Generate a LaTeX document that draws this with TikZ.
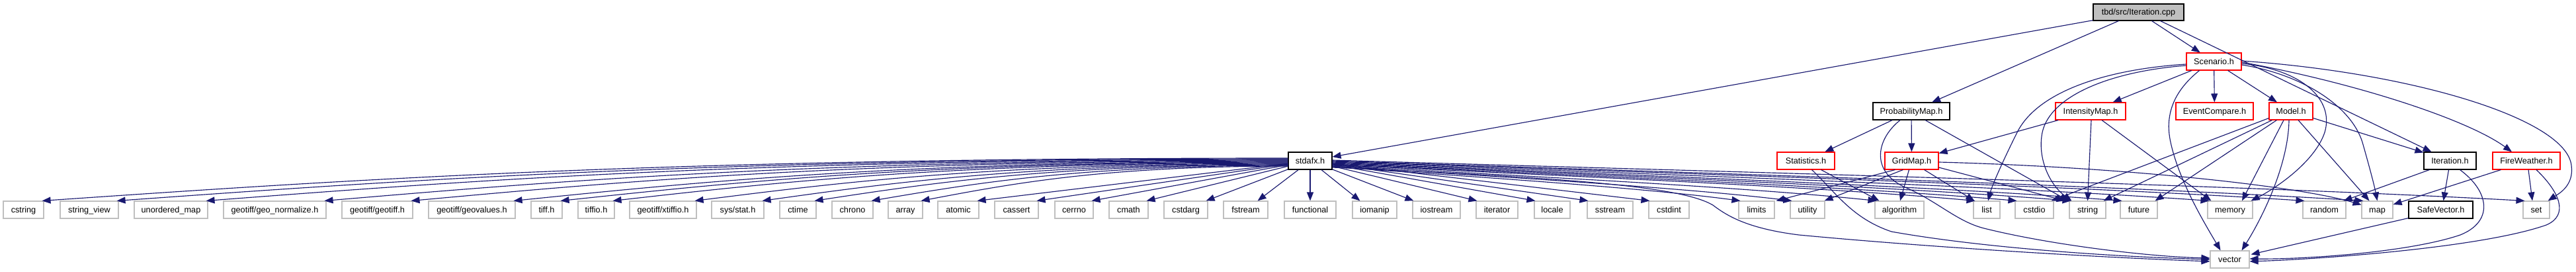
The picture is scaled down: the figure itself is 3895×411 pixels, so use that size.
\documentclass[tikz,border=0pt]{standalone}
\usepackage{fontspec}
\setmainfont{Liberation Sans}
\usetikzlibrary{arrows.meta,calc}
\definecolor{edgeblue}{HTML}{191970}
\definecolor{boxgray}{HTML}{BFBFBF}
\definecolor{boxred}{HTML}{FF0000}
\definecolor{cppfill}{HTML}{BFBFBF}
\newcommand\fanL[2]{\draw[edge] let \p1=($(stdafx.west)+(0,#2)$), \p2=($(#1.north east)+(-3,0)$) in (\p1) .. controls ({\x1+0.5*(\x2-\x1)},\y1) and ({\x2+0.25*(\x1-\x2)},{0.5*(\y1+\y2)}) .. (\p2);}
\newcommand\fanR[2]{\draw[edge] let \p1=($(stdafx.east)+(0,#2)$), \p2=($(#1.north west)+(3,0)$) in (\p1) .. controls ({\x1+0.35*(\x2-\x1)},{\y1+0.3*(\y2-\y1)}) and ({\x2-0.25*(\x2-\x1)},{\y1+0.6*(\y2-\y1)}) .. (\p2);}
\begin{document}
\begin{tikzpicture}[x=1pt,y=-1pt,
  nb/.style={rectangle, draw, line width=1.1pt, inner sep=0pt, minimum height=26pt,
    text height=9pt, text depth=0pt, font=\fontsize{12.7}{15}\selectfont, text=black},
  gbox/.style={nb, draw=boxgray},
  rbox/.style={nb, draw=boxred},
  kbox/.style={nb, draw=black},
  edge/.style={draw=edgeblue, line width=1.15pt, -{Triangle[length=13pt,width=10pt]}}]
\useasboundingbox (0,0) rectangle (3895,411);

% row 0
\node[kbox, fill=cppfill, minimum width=137, minimum height=25] (cpp) at (3233.5,18.5) {tbd/src/Iteration.cpp};
% row 1
\node[rbox, minimum width=83] (scenario) at (3347.5,93) {Scenario.h};
% row 2
\node[kbox, minimum width=116] (probmap) at (2890,168) {ProbabilityMap.h};
\node[rbox, minimum width=106] (intensity) at (3161,168) {IntensityMap.h};
\node[rbox, minimum width=117] (eventcmp) at (3348.5,168) {EventCompare.h};
\node[rbox, minimum width=66] (model) at (3464,168) {Model.h};
% row 3
\node[kbox, minimum width=66] (stdafx) at (1981,243) {stdafx.h};
\node[rbox, minimum width=87] (statistics) at (2730.5,243) {Statistics.h};
\node[rbox, minimum width=81] (gridmap) at (2890.5,243) {GridMap.h};
\node[kbox, minimum width=79] (iterh) at (3704.5,243) {Iteration.h};
\node[rbox, minimum width=102] (fireweather) at (3820,243) {FireWeather.h};
% row 4
\node[gbox,minimum width=61] (cstring) at (35.5,317) {cstring};
\node[gbox,minimum width=88] (stringview) at (135,317) {string\_view};
\node[gbox,minimum width=111] (unorderedmap) at (258.5,317) {unordered\_map};
\node[gbox,minimum width=155] (geonorm) at (415.5,317) {geotiff/geo\_normalize.h};
\node[gbox,minimum width=107] (geotiff) at (570.5,317) {geotiff/geotiff.h};
\node[gbox,minimum width=131] (geovalues) at (713.5,317) {geotiff/geovalues.h};
\node[gbox,minimum width=47] (tiffh) at (826.5,317) {tiff.h};
\node[gbox,minimum width=55] (tiffio) at (901.5,317) {tiffio.h};
\node[gbox,minimum width=101] (xtiffio) at (1002.5,317) {geotiff/xtiffio.h};
\node[gbox,minimum width=79] (sysstat) at (1115.5,317) {sys/stat.h};
\node[gbox,minimum width=55] (ctime) at (1206.5,317) {ctime};
\node[gbox,minimum width=62] (chrono) at (1289,317) {chrono};
\node[gbox,minimum width=52] (array) at (1369,317) {array};
\node[gbox,minimum width=62] (atomic) at (1449,317) {atomic};
\node[gbox,minimum width=66] (cassert) at (1537,317) {cassert};
\node[gbox,minimum width=58] (cerrno) at (1624,317) {cerrno};
\node[gbox,minimum width=59] (cmath) at (1706.5,317) {cmath};
\node[gbox,minimum width=66] (cstdarg) at (1793,317) {cstdarg};
\node[gbox,minimum width=67] (fstream) at (1883.5,317) {fstream};
\node[gbox,minimum width=78] (functional) at (1981,317) {functional};
\node[gbox,minimum width=67] (iomanip) at (2078.5,317) {iomanip};
\node[gbox,minimum width=72] (iostream) at (2172,317) {iostream};
\node[gbox,minimum width=63] (iterator) at (2263.5,317) {iterator};
\node[gbox,minimum width=54] (locale) at (2347,317) {locale};
\node[gbox,minimum width=69] (sstream) at (2434.5,317) {sstream};
\node[gbox,minimum width=61] (cstdint) at (2523.5,317) {cstdint};
\node[gbox,minimum width=54] (limits) at (2656,317) {limits};
\node[gbox,minimum width=52] (utility) at (2733,317) {utility};
\node[gbox,minimum width=74] (algorithm) at (2872,317) {algorithm};
\node[gbox,minimum width=40] (list) at (3004,317) {list};
\node[gbox,minimum width=58] (cstdio) at (3076,317) {cstdio};
\node[gbox,minimum width=55] (string) at (3156.5,317) {string};
\node[gbox,minimum width=56] (future) at (3234,317) {future};
\node[gbox,minimum width=68] (memory) at (3372,317) {memory};
\node[gbox,minimum width=65] (random) at (3514.5,317) {random};
\node[gbox,minimum width=47] (map) at (3594.5,317) {map};
\node[kbox,minimum width=97] (safevector) at (3690.5,317) {SafeVector.h};
\node[gbox,minimum width=40] (set) at (3835,317) {set};
% row 5
\node[gbox,minimum width=59] (vector) at (3371.5,392) {vector};

% Iteration.cpp
\draw[edge] (cpp) -- (stdafx);
\draw[edge] (cpp) -- (probmap);
\draw[edge] (cpp) -- (scenario);
\draw[edge] ($(cpp.south)+(33,0)$) -- (iterh);

% Scenario.h
\draw[edge] (scenario) -- (intensity);
\draw[edge] (scenario) -- (eventcmp);
\draw[edge] (scenario) -- (model);
\draw[edge] ($(scenario.west)+(0,4)$) .. controls (3180,105) and (3080,140) .. (3050,200) .. controls (3030,240) and (3012,280) .. ($(list.north)+(2,0)$);
\draw[edge] ($(scenario.west)+(0,6)$) .. controls (3190,108) and (3100,145) .. (3088,200) .. controls (3080,240) and (3100,280) .. ($(string.north west)+(4,0)$);
\draw[edge] ($(scenario.south)+(-22,0)$) .. controls (3290,135) and (3272,170) .. (3282,215) .. controls (3295,275) and (3335,340) .. ($(vector.north)+(-14,0)$);
\draw[edge] ($(scenario.east)+(0,3)$) .. controls (3480,105) and (3530,150) .. (3515,200) .. controls (3500,245) and (3440,285) .. ($(memory.north east)+(-3,0)$);
\draw[edge] ($(scenario.east)+(0,5)$) .. controls (3480,112) and (3555,160) .. (3572,215) .. controls (3582,250) and (3590,280) .. (map.north);
\draw[edge] ($(scenario.east)+(0,1)$) .. controls (3560,125) and (3730,180) .. ($(fireweather.north)+(-22,0)$);
\draw[edge] ($(scenario.east)+(0,-1)$) .. controls (3650,110) and (3880,180) .. (3888,250) .. controls (3892,280) and (3870,292) .. ($(set.north east)+(-3,0)$);

% Model.h
\draw[edge] ($(model.south west)+(0,-3)$) -- ($(cstdio.north east)+(-4,0)$);
\draw[edge] ($(model.south west)+(5,0)$) -- ($(string.north east)+(-4,0)$);
\draw[edge] ($(model.south west)+(12,0)$) -- ($(future.north east)+(-4,0)$);
\draw[edge] ($(model.south)+(-11,0)$) -- ($(memory.north)+(18,0)$);
\draw[edge] ($(model.south)+(-3,0)$) .. controls (3460,250) and (3420,330) .. ($(vector.north)+(18,0)$);
\draw[edge] ($(model.south)+(11,0)$) -- ($(map.north)+(-12,0)$);
\draw[edge] (model) -- (iterh);

% IntensityMap.h
\draw[edge] (intensity) -- (gridmap);
\draw[edge] ($(intensity.south)+(1,0)$) -- (string.north);
\draw[edge] ($(intensity.south)+(17,0)$) -- ($(memory.north west)+(6,0)$);

% ProbabilityMap.h
\draw[edge] (probmap) -- (statistics);
\draw[edge] (probmap) -- (gridmap);
\draw[edge] ($(probmap.south)+(21,0)$) -- ($(string.north west)+(-1,0)$);
\draw[edge] ($(probmap.south)+(-17,0)$) .. controls (2835,212) and (2828,262) .. (2885,285) .. controls (2930,305) and (2960,335) .. (3000,345) .. controls (3100,370) and (3250,388) .. ($(vector.west)+(0,-2)$);

% Statistics.h
\draw[edge] ($(statistics.south)+(9,0)$) .. controls (2775,290) and (2800,330) .. (2860,350) .. controls (3000,375) and (3200,388) .. (vector.west);
\draw[edge] ($(statistics.south)+(23,0)$) -- ($(algorithm.north west)+(7,0)$);

% GridMap.h
\draw[edge] ($(gridmap.south west)+(16,0)$) -- ($(limits.north east)+(2,0)$);
\draw[edge] ($(gridmap.south west)+(28,0)$) -- ($(utility.north east)+(-1,0)$);
\draw[edge] ($(gridmap.south)+(-4,0)$) -- ($(algorithm.north)+(1,0)$);
\draw[edge] ($(gridmap.south east)+(-22,0)$) -- ($(list.north west)+(2,0)$);
\draw[edge] ($(gridmap.east)+(0,10)$) -- ($(string.north west)+(-6,0)$);
\draw[edge] ($(gridmap.east)+(0,2)$) .. controls (3200,252) and (3470,280) .. ($(map.north west)+(0,6)$);

% Iteration.h
\draw[edge] ($(iterh.south west)+(9,0)$) -- ($(random.north east)+(-4,0)$);
\draw[edge] ($(iterh.south)+(-2,0)$) -- ($(safevector.north)+(4,0)$);
\draw[edge] ($(iterh.south)+(15,0)$) .. controls (3765,290) and (3770,335) .. (3720,355) .. controls (3640,382) and (3480,392) .. ($(vector.east)+(0,-1)$);

% FireWeather.h
\draw[edge] ($(fireweather.south west)+(13,0)$) -- ($(map.east)+(0,-8)$);
\draw[edge] ($(fireweather.south)+(3,0)$) -- ($(set.north)+(-6,0)$);
\draw[edge] ($(fireweather.south)+(15,0)$) .. controls (3870,290) and (3885,325) .. (3850,340) .. controls (3750,375) and (3500,392) .. ($(vector.east)+(0,3)$);

% SafeVector.h
\draw[edge] ($(safevector.south west)+(0,-1)$) -- ($(vector.north east)+(2,6)$);

% stdafx.h
\fanL{cstring}{-4}
\fanL{stringview}{-3}
\fanL{unorderedmap}{-2}
\fanL{geonorm}{-1}
\fanL{geotiff}{0}
\fanL{geovalues}{1}
\fanL{tiffh}{2}
\fanL{tiffio}{3}
\fanL{xtiffio}{4}
\fanL{sysstat}{5}
\fanL{ctime}{6}
\fanL{chrono}{7}
\fanL{array}{8}
\draw[edge] (stdafx) -- ($(atomic.north east)+(-3,0)$);
\draw[edge] (stdafx) -- ($(cassert.north east)+(-3,0)$);
\draw[edge] (stdafx) -- ($(cerrno.north east)+(-3,0)$);
\draw[edge] (stdafx) -- ($(cmath.north east)+(-3,0)$);
\draw[edge] (stdafx) -- ($(cstdarg.north east)+(-3,0)$);
\draw[edge] (stdafx) -- ($(fstream.north east)+(-16,0)$);
\draw[edge] (stdafx) -- (functional);
\draw[edge] (stdafx) -- ($(iomanip.north west)+(12,0)$);
\draw[edge] (stdafx) -- ($(iostream.north west)+(2,0)$);
\draw[edge] (stdafx) -- ($(iterator.north west)+(2,0)$);
\draw[edge] (stdafx) -- ($(locale.north west)+(2,0)$);
\draw[edge] (stdafx) -- ($(sstream.north west)+(2,0)$);
\draw[edge] (stdafx) -- ($(cstdint.north west)+(2,0)$);
\fanR{limits}{9}
\fanR{utility}{8}
\fanR{algorithm}{7}
\fanR{list}{6}
\fanR{cstdio}{5}
\fanR{string}{4}
\fanR{future}{3}
\fanR{memory}{2}
\fanR{random}{1}
\fanR{map}{0}
\fanR{set}{-1}
\draw[edge] ($(stdafx.east)+(0,10)$) .. controls (2350,268) and (2540,280) .. (2590,310) .. controls (2610,325) and (2640,345) .. (2720,355) .. controls (2900,372) and (3150,388) .. ($(vector.west)+(0,3)$);
\end{tikzpicture}
\end{document}
